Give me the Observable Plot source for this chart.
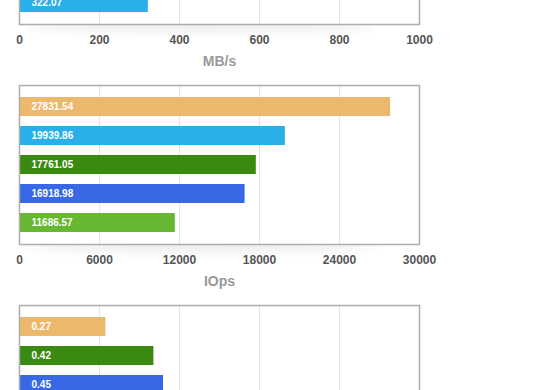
<!DOCTYPE html>
<html><head><meta charset="utf-8">
<script src="https://cdn.jsdelivr.net/npm/d3@7"></script>
<script src="https://cdn.jsdelivr.net/npm/@observablehq/plot@0.6"></script>
<style>
body{margin:0;background:#fff;overflow:hidden;height:390px;}
#wrap{margin-top:-145px;}
#wrap svg{display:block;}
</style></head><body><div id="wrap"></div>
<script>
// systems and their colours
const systems = ["A","B","C","D","E"];
const systemColors = ["#ecb86c","#29b0e8","#3a8a12","#3868e6","#66b832"];

// throughput panel (only the last bar is visible)
const mbSystems = ["B"];
const mbRanks = [5];
const mbValues = [322.07];
const mbTicks = [0,200,400,600,800,1000];
const mbLabel = "MB/s";

// IOps panel
const iopsSystems = ["A","B","C","D","E"];
const iopsRanks = [1,2,3,4,5];
const iopsValues = [27831.54,19939.86,17761.05,16918.98,11686.57];
const iopsTicks = [0,6000,12000,18000,24000,30000];
const iopsLabel = "IOps";

// latency panel (only the first bars are visible; its axis lies below the view)
const latSystems = ["A","C","D"];
const latRanks = [1,2,3];
const latValues = [0.27,0.42,0.45];
const latTicks = [0,0.25,0.5,0.75,1,1.25];
const latLabel = null;

const rankDomain = [1,2,3,4,5];

function panel(sysArr, ranks, values, ticks, label, showAxis) {
  const rows = values.map((v,i)=>({system:sysArr[i], rank:ranks[i], value:v}));
  const svg = Plot.plot({
    width:560, height:220, marginTop:10, marginBottom:51, marginLeft:19, marginRight:141,
    style:{background:"#fff", fontFamily:"'Liberation Sans', Arial, Helvetica, sans-serif"},
    x:{domain:[ticks[0], ticks[ticks.length-1]]},
    y:{type:"band", domain:rankDomain, paddingInner:1/3, paddingOuter:0.3167, axis:null},
    color:{domain:systems, range:systemColors},
    marks:[
      Plot.gridX(ticks.slice(1,-1), {stroke:"#e4e4e4", strokeOpacity:1, strokeWidth:1}),
      Plot.barX(rows, {y:"rank", x:"value", fill:"system"}),
      Plot.text(rows, {y:"rank", x:d=>0, dx:12, text:d=>String(d.value), textAnchor:"start", fill:"white", fontWeight:"bold", fontSize:10}),
      Plot.frame({stroke:"#adadad", strokeWidth:1.5}),
      showAxis ? Plot.axisX(ticks, {tickSize:0, tickPadding:11, fontSize:12, fontWeight:"bold", color:"#555", tickFormat:d=>String(d), label:null}) : Plot.axisX({ticks:[], label:null}),
      label ? Plot.text([label], {frameAnchor:"bottom", dy:41, text:d=>d, fontSize:14, fontWeight:"bold", fill:"#999"}) : null
    ]
  });
  // soft shadow under the frame
  const s = d3.select(svg);
  const id = "sh" + Math.random().toString(36).slice(2,8);
  const defs = s.insert("defs", ":first-child");
  defs.append("filter").attr("id", id+"f").attr("x","-20%").attr("y","-200%").attr("width","140%").attr("height","500%")
    .append("feGaussianBlur").attr("stdDeviation", 5);
  defs.append("clipPath").attr("id", id+"c").append("rect")
    .attr("x",0).attr("y",170).attr("width",560).attr("height",40);
  s.insert("g", "defs + *").attr("clip-path", `url(#${id}c)`)
    .append("ellipse").attr("cx",200).attr("cy",170).attr("rx",175).attr("ry",7)
    .attr("fill","#000").attr("fill-opacity",0.07).attr("filter",`url(#${id}f)`);
  return svg;
}

const wrap = document.getElementById("wrap");
wrap.append(panel(mbSystems, mbRanks, mbValues, mbTicks, mbLabel, true));
wrap.append(panel(iopsSystems, iopsRanks, iopsValues, iopsTicks, iopsLabel, true));
wrap.append(panel(latSystems, latRanks, latValues, latTicks, latLabel, false));
</script></body></html>
